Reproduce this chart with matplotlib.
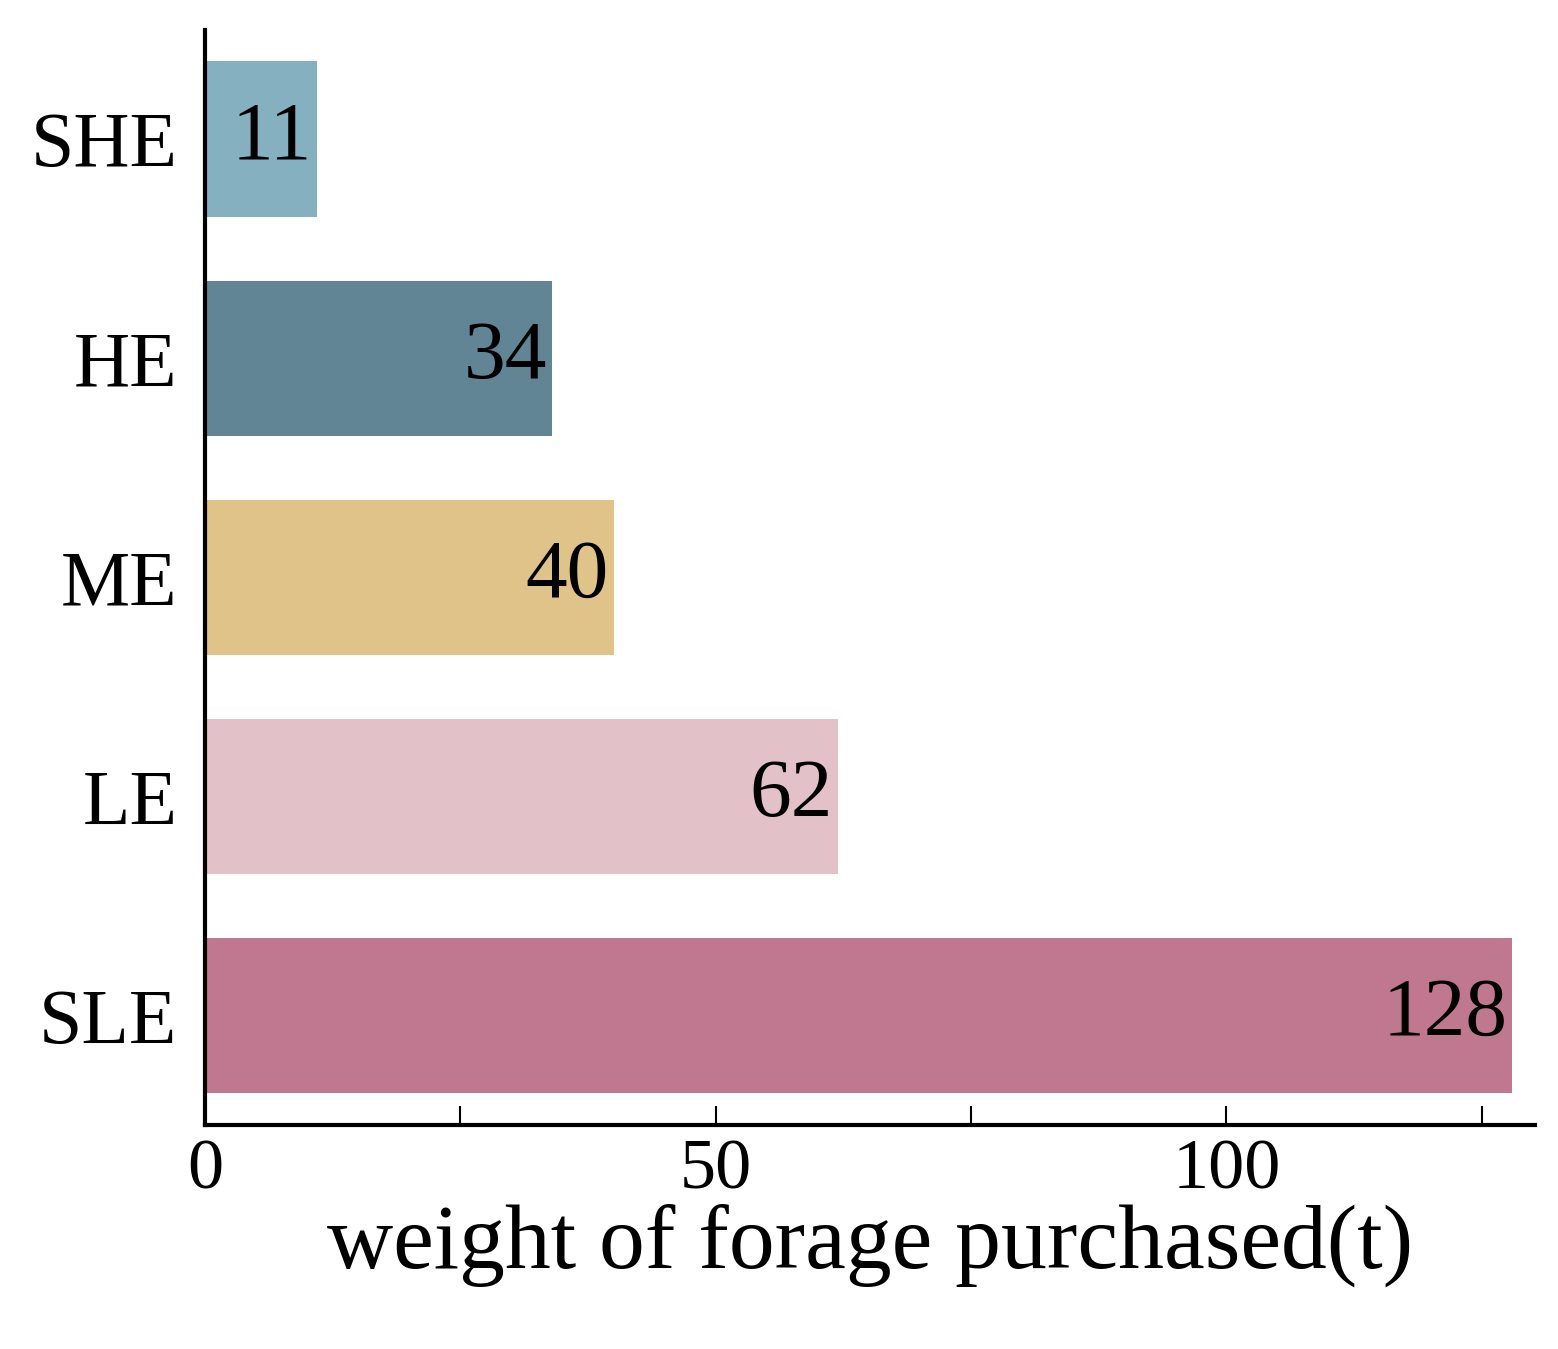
import matplotlib
matplotlib.use("Agg")
import matplotlib.pyplot as plt
from matplotlib.ticker import MultipleLocator

categories = ["SLE", "LE", "ME", "HE", "SHE"]
values = [128, 62, 40, 34, 11]
colors = ["#c07890", "#e2c1c8", "#e0c388", "#618594", "#84b0c0"]

plt.rcParams['font.family'] = ['Liberation Serif', 'DejaVu Serif']
fig = plt.figure(figsize=(15.58, 13.49), dpi=100)
ax = fig.add_axes([0.1316, 0.166, 0.8536, 0.812])
ypos = range(len(categories))
bars = ax.barh(ypos, values, height=0.71, color=colors)
for y, v in zip(ypos, values):
    ax.text(v - 0.5, y, str(v), ha='right', va='center', fontsize=60)
ax.set_yticks(list(ypos))
ax.set_yticklabels(categories, fontsize=56)
ax.tick_params(axis='y', length=0, pad=20)
ax.set_xlim(0, 130.2)
ax.set_ylim(-0.5, 4.5)
ax.xaxis.set_major_locator(MultipleLocator(50))
ax.xaxis.set_minor_locator(MultipleLocator(25))
ax.tick_params(axis='x', which='both', direction='in', length=14, width=1.5, labelsize=52, pad=10)
ax.set_xlabel("weight of forage purchased(t)", fontsize=66, labelpad=0)
for s in ['top', 'right']:
    ax.spines[s].set_visible(False)
for s in ['left', 'bottom']:
    ax.spines[s].set_linewidth(3)
fig.savefig("out.png", dpi=100)
